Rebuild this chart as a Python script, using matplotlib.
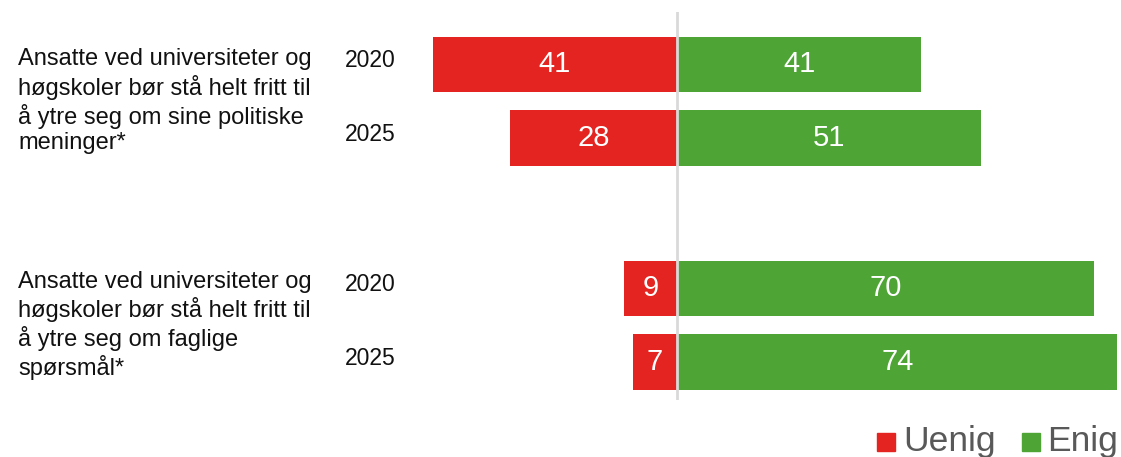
import matplotlib
matplotlib.use("Agg")
import matplotlib.pyplot as plt
import matplotlib.transforms as mtransforms
from matplotlib.patches import Rectangle

plt.rcParams['font.family'] = ['Liberation Sans', 'DejaVu Sans']

questions = [
    "Ansatte ved universiteter og\nhøgskoler bør stå helt fritt til\nå ytre seg om sine politiske\nmeninger*",
    "Ansatte ved universiteter og\nhøgskoler bør stå helt fritt til\nå ytre seg om faglige\nspørsmål*",
]
years = ["2020", "2025", "2020", "2025"]
uenig = [41, 28, 8.9, 7.45]
enig = [41, 51, 70, 74]
series_names = ["Uenig", "Enig"]
colors = ["#E42421", "#4EA535"]

ypos = [0, 1, 3.03, 4.03]

W, H = 1121, 457
fig = plt.figure(figsize=(W / 100, H / 100), dpi=100)
ax = fig.add_axes([432 / W, 1 - 400 / H, (1117 - 432) / W, (400 - 12) / H])
ax.set_xlim(-41.1, 73.8)
ax.set_ylim(4.54, -0.71)
ax.axis('off')

bh = 0.755
ax.barh(ypos, [-u for u in uenig], height=bh, color=colors[0], zorder=2)
ax.barh(ypos, enig, height=bh, color=colors[1], zorder=2)
ax.axvline(0, color='#d9d9d9', lw=2, zorder=3)

for y, u, e in zip(ypos, uenig, enig):
    ax.text(-u / 2, y, f"{u:.0f}", color='white', ha='center', va='center', fontsize=21, zorder=4)
    ax.text(e / 2, y, f"{e:.0f}", color='white', ha='center', va='center', fontsize=21, zorder=4)

blend = mtransforms.blended_transform_factory(fig.transFigure, ax.transData)
for y, yr in zip(ypos, years):
    ax.text(370 / W, y - 0.05, yr, transform=blend, fontsize=16.5, ha='center', va='center', color='#111111')

for i, q in enumerate(questions):
    ymid = (ypos[2 * i] + ypos[2 * i + 1]) / 2
    ax.text(18 / W, ymid, q, transform=blend, fontsize=17, ha='left', va='center',
            linespacing=1.21, color='#111111')

# legend
sq = 18
fig.patches.append(Rectangle((877 / W, 1 - 451 / H), sq / W, sq / H, transform=fig.transFigure,
                             color=colors[0], figure=fig))
fig.text(903 / W, 1 - 442 / H, series_names[0], fontsize=25.5, color='#595959', ha='left', va='center')
fig.patches.append(Rectangle((1022 / W, 1 - 451 / H), sq / W, sq / H, transform=fig.transFigure,
                             color=colors[1], figure=fig))
fig.text(1047 / W, 1 - 442 / H, series_names[1], fontsize=25.5, color='#595959', ha='left', va='center')

fig.savefig('out.png', dpi=100)
